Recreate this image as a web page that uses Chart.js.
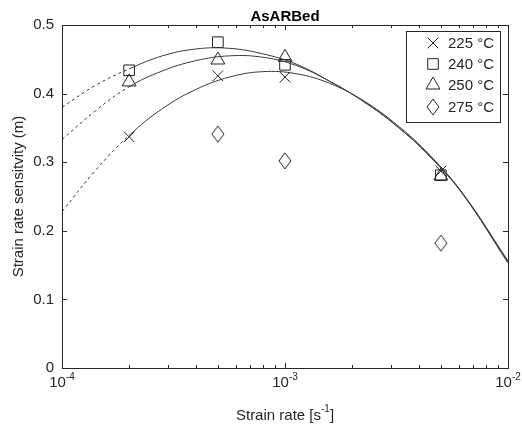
<!DOCTYPE html>
<html>
<head>
<meta charset="utf-8">
<script src="https://cdn.jsdelivr.net/npm/chart.js@4"></script>
<style>
  html, body { margin: 0; padding: 0; background: #fff; }
  #wrap { width: 522px; height: 427px; }
</style>
</head>
<body>
<div id="wrap"><canvas id="chart" width="522" height="427"></canvas></div>
<script>
// measured strain rates and sensitivity values
const rates = [2e-4, 5e-4, 1e-3, 5e-3];
const m225 = [0.337, 0.426, 0.424, 0.287];
const m240 = [0.434, 0.475, 0.442, 0.281];
const m250 = [0.417, 0.449, 0.453, 0.280];
const m275 = [null, 0.341, 0.302, 0.182];

// fitted curves (dashed below 2e-4)
const fitRates = [1e-4, 1.413e-4, 2e-4, 2.818e-4, 3.981e-4, 5.623e-4, 7.943e-4,
                  1.122e-3, 1.585e-3, 2.239e-3, 3.162e-3, 4.467e-3, 6.31e-3, 1e-2];
const fit225 = [0.228, 0.288, 0.339, 0.378, 0.406, 0.424, 0.432, 0.429, 0.415, 0.390, 0.355, 0.310, 0.253, 0.155];
const fit240 = [0.380, 0.412, 0.436, 0.455, 0.465, 0.466, 0.458, 0.443, 0.418, 0.389, 0.353, 0.309, 0.253, 0.156];
const fit250 = [0.333, 0.375, 0.410, 0.433, 0.448, 0.455, 0.453, 0.441, 0.418, 0.389, 0.353, 0.308, 0.252, 0.153];
const dashEnd = 2; // index of 2e-4

const labels = ['225 °C', '240 °C', '250 °C', '275 °C'];
const yTicks = [0, 0.1, 0.2, 0.3, 0.4, 0.5];
const xDecades = [-4, -3, -2];

const FONT = '"Liberation Sans", Arial, Helvetica, sans-serif';
const INK = '#262626';

// elongated diamond like MATLAB's
const diamond = document.createElement('canvas');
diamond.width = 14; diamond.height = 18;
(function() {
    const c = diamond.getContext('2d');
    c.strokeStyle = '#222';
    c.lineWidth = 1;
    c.beginPath();
    c.moveTo(7, 1); c.lineTo(13, 9); c.lineTo(7, 17); c.lineTo(1, 9); c.closePath();
    c.stroke();
})();

const markerStyles = [
    { pointStyle: 'crossRot', radius: 7.5 },
    { pointStyle: 'rect', radius: 7.5 },
    { pointStyle: 'triangle', radius: 8 },
    { pointStyle: diamond, radius: 8 }
];

function pts(xs, ys) {
    return xs.map((x, i) => ({ x: x, y: ys[i] })).filter(p => p.y !== null);
}

function fitSet(ys) {
    return {
        data: pts(fitRates, ys),
        showLine: true,
        borderColor: '#3a3a3a',
        borderWidth: 1,
        pointRadius: 0,
        tension: 0.4,
        segment: { borderDash: ctx => ctx.p1DataIndex <= dashEnd ? [3, 3] : undefined }
    };
}

function markSet(i, ys) {
    return {
        label: labels[i],
        data: pts(rates, ys),
        showLine: false,
        pointStyle: markerStyles[i].pointStyle,
        pointRadius: markerStyles[i].radius,
        pointBorderColor: '#222',
        pointBackgroundColor: 'rgba(0,0,0,0)',
        pointBorderWidth: 1
    };
}

const framePlugin = {
    id: 'frame',
    afterDraw(chart) {
        const { ctx, chartArea: a, scales: { x, y } } = chart;
        ctx.save();
        ctx.strokeStyle = INK;
        ctx.lineWidth = 1;
        ctx.strokeRect(a.left + 0.5, a.top + 0.5, a.right - a.left, a.bottom - a.top);

        // inward ticks on all four sides
        ctx.beginPath();
        yTicks.forEach(v => {
            const py = Math.round(y.getPixelForValue(v)) + 0.5;
            ctx.moveTo(a.left, py); ctx.lineTo(a.left + 5, py);
            ctx.moveTo(a.right, py); ctx.lineTo(a.right - 5, py);
        });
        xDecades.forEach(e => {
            for (let m = 1; m <= 9; m++) {
                const v = m * Math.pow(10, e);
                if (v > 1e-2 + 1e-12) break;
                const px = Math.round(x.getPixelForValue(v)) + 0.5;
                const len = m === 1 ? 5 : 3;
                ctx.moveTo(px, a.bottom); ctx.lineTo(px, a.bottom - len);
                ctx.moveTo(px, a.top); ctx.lineTo(px, a.top + len);
            }
        });
        ctx.stroke();

        // x tick labels 10^n
        ctx.fillStyle = INK;
        ctx.textBaseline = 'alphabetic';
        ctx.textAlign = 'left';
        xDecades.forEach(e => {
            const px = x.getPixelForValue(Math.pow(10, e));
            ctx.font = '15px ' + FONT;
            const wb = ctx.measureText('10').width;
            ctx.font = '10px ' + FONT;
            const we = ctx.measureText(String(e)).width;
            const left = px - (wb + we) / 2;
            ctx.font = '15px ' + FONT;
            ctx.fillText('10', left, 387);
            ctx.font = '10px ' + FONT;
            ctx.fillText(String(e), left + wb, 380);
        });

        // x axis title with superscript
        const cx = (a.left + a.right) / 2;
        const parts = [['Strain rate [s', 15, 420], ['-1', 10, 412], [']', 15, 420]];
        let total = 0;
        parts.forEach(p => { ctx.font = p[1] + 'px ' + FONT; total += ctx.measureText(p[0]).width; });
        let tx = cx - total / 2;
        parts.forEach(p => {
            ctx.font = p[1] + 'px ' + FONT;
            ctx.fillText(p[0], tx, p[2]);
            tx += ctx.measureText(p[0]).width;
        });

        // title
        ctx.fillStyle = '#000';
        ctx.textAlign = 'center';
        ctx.font = 'bold 15px ' + FONT;
        ctx.fillText('AsARBed', cx, 21);

        // legend box
        const lx = 406, ly = 31, lw = 94, lh = 91;
        ctx.fillStyle = '#fff';
        ctx.fillRect(lx, ly, lw, lh);
        ctx.strokeStyle = INK;
        ctx.strokeRect(lx + 0.5, ly + 0.5, lw, lh);
        const rows = [43, 64, 85, 107];
        rows.forEach((ry, i) => {
            ctx.strokeStyle = '#222';
            ctx.fillStyle = 'rgba(0,0,0,0)';
            ctx.lineWidth = 1;
            Chart.helpers.drawPoint(ctx, {
                pointStyle: markerStyles[i].pointStyle,
                radius: markerStyles[i].radius,
                rotation: 0,
                borderWidth: 1
            }, 433, ry);
            ctx.fillStyle = INK;
            ctx.textAlign = 'left';
            ctx.textBaseline = 'middle';
            ctx.font = '15px ' + FONT;
            ctx.fillText(labels[i], 448, ry + 1);
        });
        ctx.restore();
    }
};

const ctx = document.getElementById('chart').getContext('2d');
new Chart(ctx, {
    type: 'scatter',
    data: {
        datasets: [
            fitSet(fit225), fitSet(fit240), fitSet(fit250),
            markSet(0, m225), markSet(1, m240), markSet(2, m250), markSet(3, m275)
        ]
    },
    options: {
        responsive: false,
        animation: false,
        events: [],
        layout: { padding: { top: 25, right: 14, left: 0, bottom: 0 } },
        plugins: { legend: { display: false }, tooltip: { enabled: false }, title: { display: false } },
        scales: {
            x: {
                type: 'logarithmic',
                min: 1e-4, max: 1e-2,
                grid: { display: false },
                border: { display: false },
                ticks: { display: false },
                afterFit: s => { s.height = 59; }
            },
            y: {
                min: 0, max: 0.5,
                grid: { display: false, drawTicks: false },
                border: { display: false },
                afterBuildTicks: s => { s.ticks = yTicks.map(v => ({ value: v })); },
                ticks: {
                    padding: 8,
                    color: INK,
                    font: { size: 15, family: FONT },
                    callback: v => v === 0 ? '0' : v.toFixed(1)
                },
                title: {
                    display: true,
                    text: 'Strain rate sensitvity (m)',
                    color: INK,
                    font: { size: 15, family: FONT },
                    padding: { top: 10, bottom: 0 }
                },
                afterFit: s => { s.width = 62; }
            }
        }
    },
    plugins: [framePlugin]
});
</script>
</body>
</html>
